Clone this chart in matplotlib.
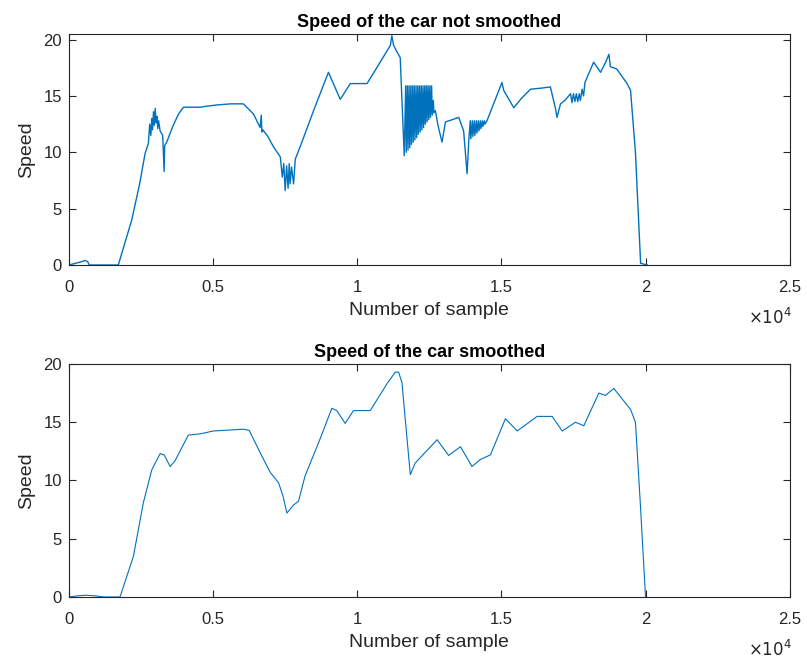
import numpy as np
import matplotlib.pyplot as plt
from matplotlib.ticker import FuncFormatter

plt.rcParams['font.family'] = ['Liberation Sans', 'DejaVu Sans']

# raw speed trace (sample index, speed)
raw_x = [0, 150, 300, 450, 555, 650, 700, 1710,
         2177, 2450, 2640, 2755, 2800, 2840, 2870, 2900, 2930, 2960, 2990, 3020,
         3050, 3080, 3110, 3160, 3250, 3300, 3320, 3390, 3600, 3800, 3970,
         4200, 4550, 4800, 5130, 5600, 6050, 6400, 6630, 6670, 6690, 6720,
         6900, 7090, 7330, 7400, 7450, 7500, 7550, 7600, 7640, 7670, 7720, 7790, 7850, 8020,
         8500, 9000, 9410, 9760, 10340, 10700, 11150, 11200, 11260, 11380, 11490,
         11630,
         11680, 11700, 11740, 11760, 11800, 11820, 11860, 11880, 11920, 11940,
         11980, 12000, 12040, 12060, 12100, 12120, 12160, 12180, 12220, 12240,
         12280, 12300, 12340, 12360, 12400, 12420, 12460, 12480, 12520, 12540,
         12580, 12600, 12640, 12660, 12710,
         12800, 12940, 13060, 13300, 13520, 13690, 13810, 13870,
         13920, 13940, 13990, 14010, 14060, 14080, 14130, 14150, 14200, 14220,
         14270, 14290, 14340, 14360, 14410, 14430, 14500,
         15020, 15080, 15430, 15700, 16010, 16400, 16700, 16875, 16930, 17050,
         17200, 17400, 17450, 17500, 17550, 17600, 17650, 17700, 17740, 17800, 17850, 17900,
         18200, 18440, 18600, 18730, 18780, 19000, 19360, 19480, 19650, 19830, 20060]
raw_y = [0.0, 0.1, 0.2, 0.3, 0.4, 0.3, 0.0, 0.0,
         4.0, 7.2, 9.9, 10.8, 12.5, 11.5, 13.0, 12.0, 13.6, 12.4, 13.9, 12.6,
         13.2, 12.1, 12.8, 11.9, 11.5, 8.3, 10.6, 10.9, 12.3, 13.4, 14.0,
         14.0, 14.0, 14.1, 14.2, 14.3, 14.3, 13.4, 12.2, 13.3, 11.8, 12.0,
         11.4, 10.5, 9.6, 7.8, 9.0, 6.6, 8.8, 6.8, 9.0, 7.2, 8.7, 7.2, 9.4, 10.5,
         13.8, 17.1, 14.7, 16.1, 16.1, 17.6, 19.5, 20.35, 19.5, 18.9, 18.4,
         9.7,
         15.9, 10.0, 15.9, 10.2, 15.9, 10.4, 15.9, 10.7, 15.9, 10.9,
         15.9, 11.1, 15.9, 11.3, 15.9, 11.6, 15.9, 11.8, 15.9, 12.0,
         15.9, 12.2, 15.9, 12.5, 15.9, 12.7, 15.9, 12.9, 15.9, 13.1,
         15.9, 13.3, 14.6, 13.5, 13.7,
         12.4, 10.9, 12.7, 12.9, 13.1, 11.9, 8.1, 11.1,
         12.8, 11.2, 12.8, 11.4, 12.8, 11.5, 12.8, 11.7, 12.8, 11.9,
         12.8, 12.1, 12.8, 12.3, 12.8, 12.5, 12.8,
         16.2, 15.5, 13.95, 14.8, 15.6, 15.7, 15.8, 13.9, 13.1, 14.3,
         14.6, 15.2, 14.4, 15.2, 14.5, 15.2, 14.5, 15.2, 14.6, 15.6, 15.0, 16.2,
         18.0, 17.1, 17.9, 18.7, 17.6, 17.4, 16.1, 15.5, 10.0, 0.15, 0.0]

# smoothed speed trace
smooth_x = [0, 300, 600, 900, 1200, 1770, 2235, 2580, 2870, 3160, 3300, 3510, 3680,
            4140, 4550, 5010, 6050, 6250, 6690, 6980, 7270, 7420, 7560, 7790, 7960,
            8190, 8660, 9120, 9290, 9580, 9870, 10450, 11030, 11320, 11435, 11550,
            11840, 12010, 12770, 13170, 13580, 13980, 14270, 14620, 15140, 15550,
            16240, 16760, 17110, 17570, 17860, 18380, 18610, 18900, 19480, 19650,
            19820, 20000]
smooth_y = [0.0, 0.1, 0.15, 0.1, 0.0, 0.0, 3.5, 8.1, 10.9, 12.3, 12.2, 11.2, 11.7,
            13.9, 14.0, 14.25, 14.4, 14.3, 12.1, 10.7, 9.8, 8.7, 7.2, 7.9, 8.2,
            10.4, 13.25, 16.2, 16.0, 14.9, 16.0, 16.0, 18.3, 19.3, 19.3, 18.4,
            10.5, 11.5, 13.5, 12.15, 12.9, 11.2, 11.8, 12.2, 15.3, 14.25,
            15.5, 15.5, 14.25, 15.0, 14.7, 17.5, 17.3, 17.9, 16.1, 15.0,
            8.0, 0.0]

blue = '#0072BD'
dark = '#262626'
fig = plt.figure(figsize=(8.07, 6.6), dpi=100)
ax1 = fig.add_axes([0.0855, 0.5985, 0.893, 0.35])
ax2 = fig.add_axes([0.0855, 0.0955, 0.893, 0.353])

fmt = FuncFormatter(lambda v, p: ('%g' % (v / 1e4)))

for ax, xs, ys, ttl, top, lw in [(ax1, raw_x, raw_y, 'Speed of the car not smoothed', 20.5, 1.0),
                                 (ax2, smooth_x, smooth_y, 'Speed of the car smoothed', 20, 0.8)]:
    ax.plot(xs, ys, color=blue, lw=lw)
    ax.set_xlim(0, 25000)
    ax.set_ylim(0, top)
    ax.set_xticks([0, 5000, 10000, 15000, 20000, 25000])
    ax.set_yticks([0, 5, 10, 15, 20])
    ax.xaxis.set_major_formatter(fmt)
    ax.tick_params(direction='in', top=True, right=True, labelsize=12,
                   colors=dark, length=5, width=0.8)
    ax.tick_params(axis='x', pad=11)
    ax.tick_params(axis='y', pad=5)
    for s in ax.spines.values():
        s.set_color(dark)
        s.set_linewidth(0.8)
    ax.set_title(ttl, fontsize=13, fontweight='bold', pad=5)
    ax.set_xlabel('Number of sample', fontsize=14, color=dark, labelpad=5)
    ax.set_ylabel('Speed', fontsize=14, color=dark, labelpad=6)
    ax.annotate(r'$\times10^{4}$', xy=(1.0, 0.0), xycoords='axes fraction',
                xytext=(2, -52), textcoords='offset pixels', ha='right', va='center',
                fontsize=12, color=dark)

fig.savefig('out.png', dpi=100)
